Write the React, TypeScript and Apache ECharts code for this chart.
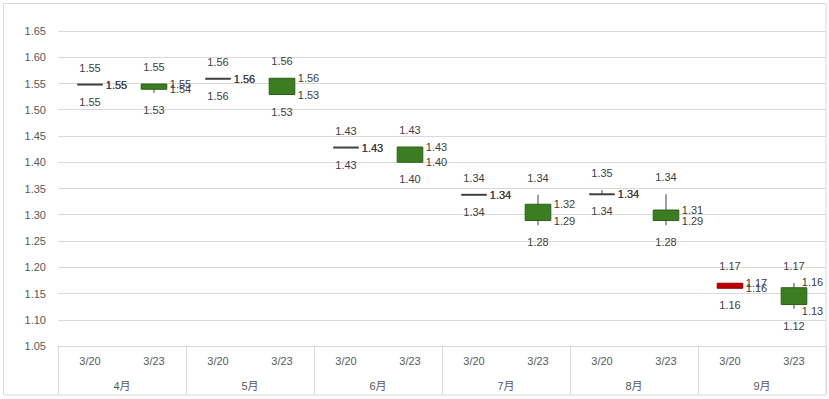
import React, { useEffect, useRef } from "react";
import * as echarts from "echarts";

const days = ["3/20", "3/23", "3/20", "3/23", "3/20", "3/23", "3/20", "3/23", "3/20", "3/23", "3/20", "3/23"];
const months = ["4月", "5月", "6月", "7月", "8月", "9月"];
const openVals = [1.548, 1.549, 1.559, 1.56, 1.428, 1.429, 1.338, 1.32, 1.339, 1.309, 1.16, 1.161];
const highVals = [1.548, 1.549, 1.559, 1.56, 1.428, 1.429, 1.338, 1.338, 1.347, 1.339, 1.1695, 1.17];
const lowVals = [1.548, 1.532, 1.559, 1.529, 1.428, 1.4, 1.338, 1.28, 1.339, 1.28, 1.16, 1.121];
const closeVals = [1.548, 1.539, 1.559, 1.529, 1.428, 1.4, 1.338, 1.289, 1.339, 1.289, 1.1695, 1.129];
const yTicks = { min: 1.05, max: 1.65, interval: 0.05 };

const FONT = "'Liberation Sans', Arial, 'Noto Sans CJK SC', sans-serif";
const LABEL_COLOR = "#404040";
const AXIS_COLOR = "#595959";
const GRID_COLOR = "#D9D9D9";

export default function App() {
  const ref = useRef<HTMLDivElement>(null);
  useEffect(() => {
    if (!ref.current) return;
    const chart = echarts.init(ref.current, undefined, { renderer: "svg" });
    const seriesData = days.map((_, i) => [i, openVals[i], highVals[i], lowVals[i], closeVals[i]]);

    const renderItem = (params: any, api: any) => {
      const i = api.value(0);
      const o = api.value(1);
      const h = api.value(2);
      const l = api.value(3);
      const c = api.value(4);
      const pO = api.coord([i, o]);
      const pC = api.coord([i, c]);
      const pH = api.coord([i, h]);
      const pL = api.coord([i, l]);
      const x = pO[0];
      const band = api.size([1, 0])[0];
      const bw = band * 0.4;
      const cs = params.coordSys;
      const rightLimit = cs.x + cs.width;
      const children: any[] = [];
      children.push({
        type: "line",
        shape: { x1: x, y1: pH[1], x2: x, y2: pL[1] },
        style: { stroke: "#404040", lineWidth: 1 },
      });
      const top = Math.min(pO[1], pC[1]);
      const bot = Math.max(pO[1], pC[1]);
      if (bot - top < 1.5) {
        children.push({
          type: "line",
          shape: { x1: x - bw / 2, y1: top, x2: x + bw / 2, y2: top },
          style: { stroke: "#404040", lineWidth: 2 },
        });
      } else {
        const up = c > o;
        children.push({
          type: "rect",
          shape: { x: x - bw / 2, y: top, width: bw, height: bot - top },
          style: {
            fill: up ? "#C00000" : "#3C7D22",
            stroke: up ? "#8B0000" : "#2C5E19",
            lineWidth: 1,
          },
        });
      }
      const txt = (text: string, tx: number, ty: number, align: string) => ({
        type: "text",
        style: {
          text,
          x: tx,
          y: ty,
          fill: LABEL_COLOR,
          fontSize: 11,
          fontFamily: FONT,
          align,
          verticalAlign: "middle",
        },
      });
      children.push(txt(h.toFixed(2), x, pH[1] - 17, "center"));
      children.push(txt(l.toFixed(2), x, pL[1] + 17, "center"));
      let lx = x + bw / 2 + 3;
      let shift = 0;
      if (lx + 22 > rightLimit) {
        lx = x + bw / 2 - 5;
        shift = 6;
      }
      const oTop = pO[1] <= pC[1];
      children.push(txt(o.toFixed(2), lx, pO[1] + (oTop ? -shift : shift), "left"));
      children.push(txt(c.toFixed(2), lx, pC[1] + (oTop ? shift : -shift), "left"));
      return { type: "group", children };
    };

    chart.setOption({
      animation: false,
      textStyle: { fontFamily: FONT },
      grid: { left: 58, right: 3, top: 31, bottom: 53 },
      graphic: [
        {
          type: "rect",
          shape: { x: 3.5, y: 3.5, width: 822.5, height: 391.5 },
          style: { fill: "none", stroke: GRID_COLOR, lineWidth: 1 },
          silent: true,
          z: -1,
        },
      ],
      xAxis: [
        {
          type: "category",
          data: days,
          boundaryGap: true,
          axisLine: { show: true, lineStyle: { color: GRID_COLOR } },
          axisTick: { show: false },
          axisLabel: { color: AXIS_COLOR, fontSize: 11, margin: 9, fontFamily: FONT, interval: 0 },
          splitLine: { show: false },
        },
        {
          type: "category",
          data: months,
          position: "bottom",
          boundaryGap: true,
          axisLine: { show: false },
          axisTick: { show: true, length: 49, interval: 0, lineStyle: { color: GRID_COLOR } },
          axisLabel: { color: AXIS_COLOR, fontSize: 11, margin: 34, fontFamily: FONT, interval: 0 },
          splitLine: { show: false },
        },
      ],
      yAxis: {
        type: "value",
        min: yTicks.min,
        max: yTicks.max,
        interval: yTicks.interval,
        axisLine: { show: false },
        axisTick: { show: false },
        axisLabel: {
          color: AXIS_COLOR,
          fontSize: 11,
          margin: 12,
          fontFamily: FONT,
          formatter: (v: number) => v.toFixed(2),
        },
        splitLine: { lineStyle: { color: GRID_COLOR } },
      },
      series: [
        {
          type: "custom",
          xAxisIndex: 0,
          yAxisIndex: 0,
          renderItem,
          encode: { x: 0, y: [1, 2, 3, 4] },
          data: seriesData,
          clip: false,
        },
      ],
    });
    return () => chart.dispose();
  }, []);
  return (
    <div
      ref={ref}
      style={{ position: "absolute", left: 0, top: 0, width: 829, height: 399, background: "#fff" }}
    />
  );
}
